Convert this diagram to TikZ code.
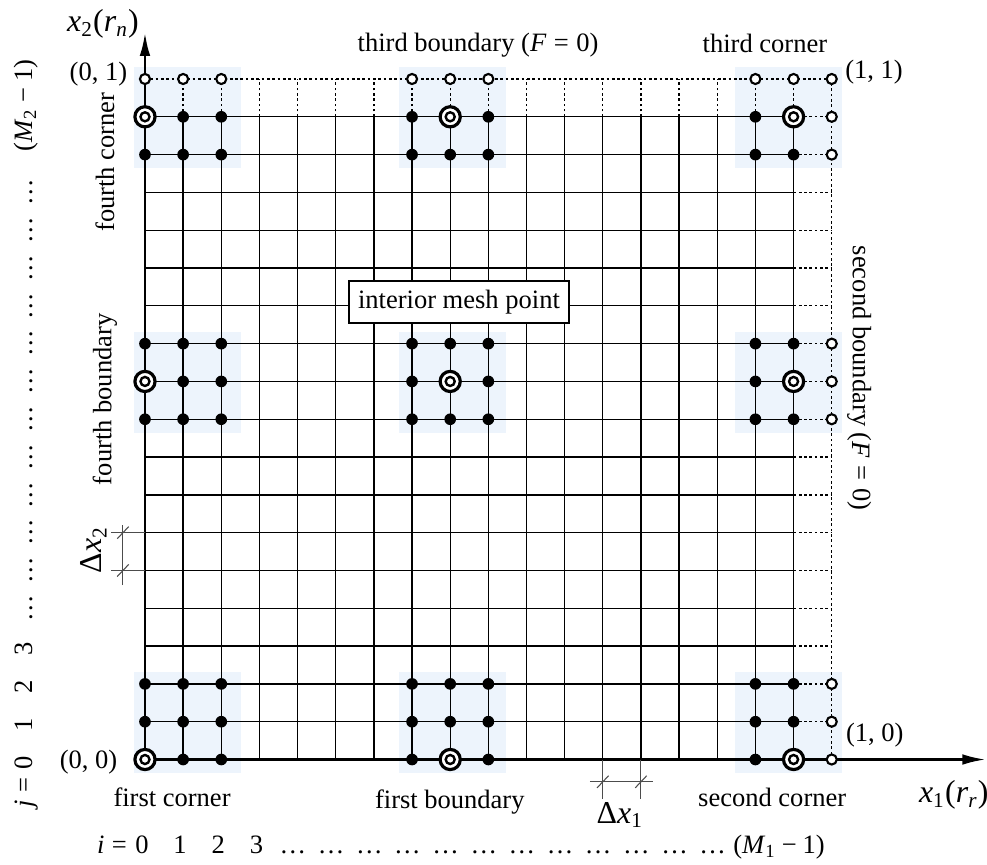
\documentclass[tikz,border=0pt]{standalone}
\usepackage{fontspec}
\setmainfont{Liberation Serif}
\usetikzlibrary{arrows.meta}

\definecolor{meshbg}{HTML}{EDF4FC}
\newcommand\ita[1]{\textit{#1}}
\newcommand\lowsub[1]{\textsubscript{#1}}
\newcommand\eqs{\kern0.28em=\kern0.28em}
\newcommand\mns{\kern0.22em−\kern0.22em}

\tikzset{
  fullpt/.style={circle, fill=black, inner sep=0pt, minimum size=4.4pt},
  openpt/.style={circle, draw, fill=white, line width=0.8pt, inner sep=0pt, minimum size=3.8pt},
  ringpt/.style={circle, draw, fill=white, line width=1.2pt, inner sep=0pt, minimum size=7.6pt,
    path picture={\draw[line width=0.9pt] (path picture bounding box.center) circle (1.7pt);}},
  gridln/.style={line width=0.5pt},
  bndln/.style={line width=0.5pt, dash pattern=on 1pt off 1pt},
  axisln/.style={line width=1.1pt, -{Latex[length=9pt, width=4pt]}},
  dimln/.style={line width=0.4pt, black!70},
  lbl/.style={inner sep=1pt},
  axlbl/.style={inner sep=1pt, font=\large},
  idx/.style={inner sep=0pt, anchor=base},
}

\begin{document}
\begin{tikzpicture}[x=0.5055cm, y=0.5009cm]
  \useasboundingbox (-3.80,-2.77) rectangle (22.07,20.09);

  \coordinate (O) at (0,0);
  \coordinate (xend) at (22.05,0);
  \coordinate (yend) at (0,19.24);

  % shaded 3x3 stencils
  \foreach \ia/\ox in {0/-0.29, 7/-0.34, 16/-0.53} {
    \foreach \ja in {0,9,16} {
      \fill[meshbg] (\ia+\ox,\ja-0.36) rectangle ++(2.8,2.68);
    }
  }

  % mesh
  \foreach \i in {1,...,17} {
    \draw[gridln] (\i,0) -- (\i,17);
    \draw[bndln] (\i,17) -- (\i,18);
  }
  \foreach \j in {1,...,17} {
    \draw[gridln] (0,\j) -- (17,\j);
    \draw[bndln] (17,\j) -- (18,\j);
  }
  \draw[bndln] (0,18) -- (18,18);
  \draw[bndln] (18,0) -- (18,18);

  \draw[axisln] (O) -- (xend);
  \draw[axisln] (O) -- (yend);

  % mesh points
  \foreach \ia/\ic in {0/0, 7/8, 16/17} {
    \foreach \ja/\jc in {0/0, 9/10, 16/17} {
      \foreach \a in {0,1,2} {
        \foreach \b in {0,1,2} {
          \pgfmathtruncatemacro\i{\ia+\a}
          \pgfmathtruncatemacro\j{\ja+\b}
          \pgfmathtruncatemacro\kind{(\i==\ic && \j==\jc) ? 2 : ((\i==18 || \j==18) ? 1 : 0)}
          \ifcase\kind
            \node[fullpt] (p-\i-\j) at (\i,\j) {};
          \or
            \node[openpt] (p-\i-\j) at (\i,\j) {};
          \or
            \node[ringpt] (p-\i-\j) at (\i,\j) {};
          \fi
        }
      }
    }
  }

  % mesh widths
  \draw[dimln] (12,0) -- (12,-1.05);
  \draw[dimln] (13,0) -- (13,-1.05);
  \draw[dimln] (11.66,-0.59) -- (13.32,-0.59);
  \draw[dimln] (11.85,-0.75) -- (12.15,-0.43);
  \draw[dimln] (12.85,-0.75) -- (13.15,-0.43);
  \draw[dimln] (0,6) -- (-0.89,6);
  \draw[dimln] (0,5) -- (-0.89,5);
  \draw[dimln] (-0.577,4.61) -- (-0.577,6.19);
  \draw[dimln] (-0.727,4.84) -- (-0.427,5.16);
  \draw[dimln] (-0.727,5.84) -- (-0.427,6.16);

  % labels
  \node[axlbl] (xtwo) at (-1.1,19.45) {\ita{x}\lowsub{2}(\ita{r}\lowsub{\ita{n}})};
  \node[lbl] (zeroone) at (-1.22,18.13) {(0, 1)};
  \node[lbl] (thirdb) at (8.73,18.9) {third boundary (\ita{F}\eqs 0)};
  \node[lbl] (thirdc) at (16.25,18.95) {third corner};
  \node[lbl] (oneone) at (19.11,18.18) {(1, 1)};
  \node[lbl, rotate=90] (fourthc) at (-1.05,15.8) {fourth corner};
  \node[lbl, rotate=90] (fourthb) at (-1.05,9.53) {fourth boundary};
  \node[axlbl, rotate=90] (dxtwo) at (-1.34,5.54) {Δ\ita{x}\lowsub{2}};
  \node[lbl, rotate=-90] (secondb) at (18.72,10.09) {second boundary (\ita{F}\eqs 0)};
  \node[draw, fill=white, line width=0.8pt, inner sep=3.5pt] (interior) at (8.23,12.1) {interior mesh point};
  \node[lbl] (zerozero) at (-1.48,-0.07) {(0, 0)};
  \node[lbl] (onezero) at (19.13,0.64) {(1, 0)};
  \node[lbl] (firstc) at (0.71,-0.99) {first corner};
  \node[lbl] (firstb) at (7.99,-1.12) {first boundary};
  \node[lbl] (secondc) at (16.44,-0.99) {second corner};
  \node[axlbl] (xone) at (21.2,-0.94) {\ita{x}\lowsub{1}(\ita{r}\lowsub{\ita{r}})};
  \node[axlbl] (dxone) at (12.45,-1.47) {Δ\ita{x}\lowsub{1}};

  % index rows
  \node[idx] (ix0) at (-0.08,-2.48) {0};
  \node[idx, anchor=base east] (ieq) at (ix0.base west) {\ita{i}\eqs};
  \foreach \k in {1,2,3}
    \node[idx] (ix\k) at (\k-0.08,-2.48) {\k};
  \foreach \k in {4,...,15}
    \node[idx] (ix\k) at (\k-0.12,-2.48) {…};
  \node[idx] (ixm) at (16.62,-2.48) {(\ita{M}\lowsub{1}\mns 1)};

  \node[idx, rotate=90] (jy0) at (-2.96,-0.08) {0};
  \node[idx, rotate=90, anchor=base east] (jeq) at (jy0.base west) {\ita{j}\eqs};
  \foreach \k in {1,2,3}
    \node[idx, rotate=90] (jy\k) at (-2.96,\k-0.08) {\k};
  \foreach \k in {4,...,15}
    \node[idx, rotate=90] (jy\k) at (-2.96,\k) {…};
  \node[idx, rotate=90] (jym) at (-2.96,17.3) {(\ita{M}\lowsub{2}\mns 1)};
\end{tikzpicture}
\end{document}
